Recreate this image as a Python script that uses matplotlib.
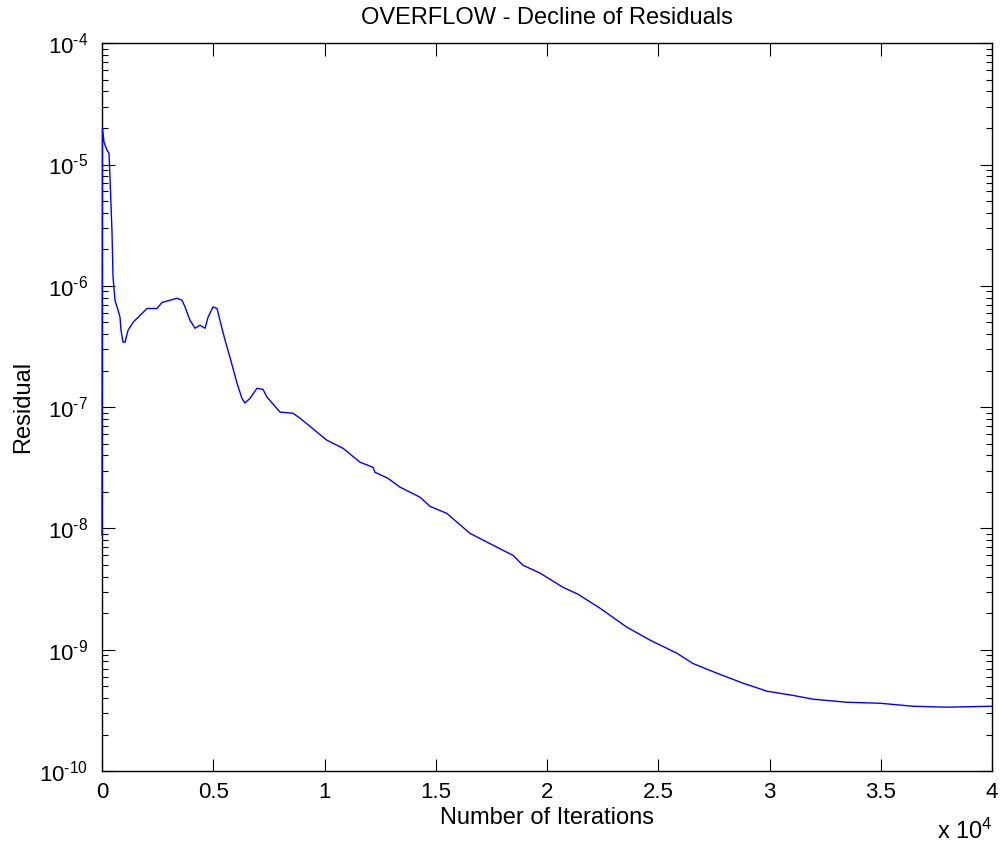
import numpy as np
import matplotlib
matplotlib.use("Agg")
import matplotlib.pyplot as plt
from matplotlib.ticker import FixedLocator, FuncFormatter, LogLocator, NullFormatter

plt.rcParams['font.family'] = ['Liberation Sans', 'DejaVu Sans']
plt.rcParams['mathtext.fontset'] = 'custom'
plt.rcParams['mathtext.rm'] = 'Liberation Sans'
plt.rcParams['mathtext.it'] = 'Liberation Sans'
plt.rcParams['mathtext.default'] = 'regular'

# Residual history
iterations = [0, 20, 90, 225, 315, 360, 450, 495, 585, 720, 810, 855, 945, 1035,
              1170, 1395, 1710, 2020, 2470, 2700, 3055, 3370, 3595, 3730, 3955,
              4180, 4405, 4630, 4765, 4990, 5170, 5300, 5530, 5750, 6070, 6290,
              6425, 6650, 6965, 7235, 7415, 8000, 8585, 8900, 10110, 10830,
              11600, 12180, 12270, 12850, 13390, 14290, 14740, 15500, 16540,
              17750, 18470, 18920, 19690, 20720, 21390, 22380, 23600, 24630,
              25840, 26560, 27640, 28810, 29890, 31060, 31960, 33480, 34970,
              36450, 37980, 40000]
residual = [8.8e-9, 2.0e-5, 1.53e-5, 1.31e-5, 1.24e-5, 7.7e-6, 2.77e-6, 1.18e-6,
            7.6e-7, 6.3e-7, 5.5e-7, 4.3e-7, 3.43e-7, 3.43e-7, 4.3e-7, 5.0e-7,
            5.7e-7, 6.5e-7, 6.5e-7, 7.3e-7, 7.6e-7, 7.9e-7, 7.6e-7, 6.7e-7,
            5.2e-7, 4.47e-7, 4.73e-7, 4.47e-7, 5.5e-7, 6.7e-7, 6.5e-7, 5.2e-7,
            3.56e-7, 2.58e-7, 1.57e-7, 1.18e-7, 1.08e-7, 1.18e-7, 1.43e-7,
            1.40e-7, 1.21e-7, 9.1e-8, 8.9e-8, 8.1e-8, 5.33e-8, 4.58e-8, 3.51e-8,
            3.19e-8, 2.9e-8, 2.59e-8, 2.19e-8, 1.81e-8, 1.52e-8, 1.33e-8, 9.1e-9,
            7.0e-9, 6.0e-9, 4.97e-9, 4.28e-9, 3.27e-9, 2.87e-9, 2.2e-9, 1.53e-9,
            1.20e-9, 9.35e-10, 7.7e-10, 6.4e-10, 5.3e-10, 4.55e-10, 4.2e-10,
            3.91e-10, 3.69e-10, 3.62e-10, 3.42e-10, 3.36e-10, 3.42e-10]

x_ticks = [0, 5000, 10000, 15000, 20000, 25000, 30000, 35000, 40000]
y_exponents = [-10, -9, -8, -7, -6, -5, -4]

fig = plt.figure(figsize=(10, 8.47), dpi=100)
ax = fig.add_axes([0.102, 0.0897, 0.890, 0.8593])

ax.plot(iterations, residual, color='blue', linewidth=1.0, zorder=3, clip_on=False)

ax.set_yscale('log')
ax.set_xlim(0, 40000)
ax.set_ylim(1e-10, 1e-4)

ax.xaxis.set_major_locator(FixedLocator(x_ticks))
ax.xaxis.set_major_formatter(FuncFormatter(lambda v, p: f"{v / 1e4:g}"))
ax.yaxis.set_major_locator(FixedLocator([10.0 ** e for e in y_exponents]))
ax.yaxis.set_major_formatter(FuncFormatter(
    lambda v, p: r"$10^{\text{%d}}$" % int(round(np.log10(v)))))
ax.yaxis.set_minor_locator(LogLocator(base=10, subs=np.arange(2, 10), numticks=20))
ax.yaxis.set_minor_formatter(NullFormatter())

ax.tick_params(which='both', direction='in', top=True, right=True,
               labelsize=16, width=0.8)
ax.tick_params(axis='x', pad=8)
ax.tick_params(axis='y', pad=10)
ax.tick_params(which='major', length=9)
ax.tick_params(which='minor', length=4.5)
for s in ax.spines.values():
    s.set_linewidth(1.0)

ax.set_title('OVERFLOW - Decline of Residuals', fontsize=17, pad=14)
ax.set_xlabel('Number of Iterations', fontsize=17, labelpad=3)
ax.set_ylabel('Residual', fontsize=17, labelpad=4)

fig.text(0.937, 0.004, r'x $10^{4}$', fontsize=17, ha='left', va='bottom')

fig.savefig('out.png', dpi=100)
